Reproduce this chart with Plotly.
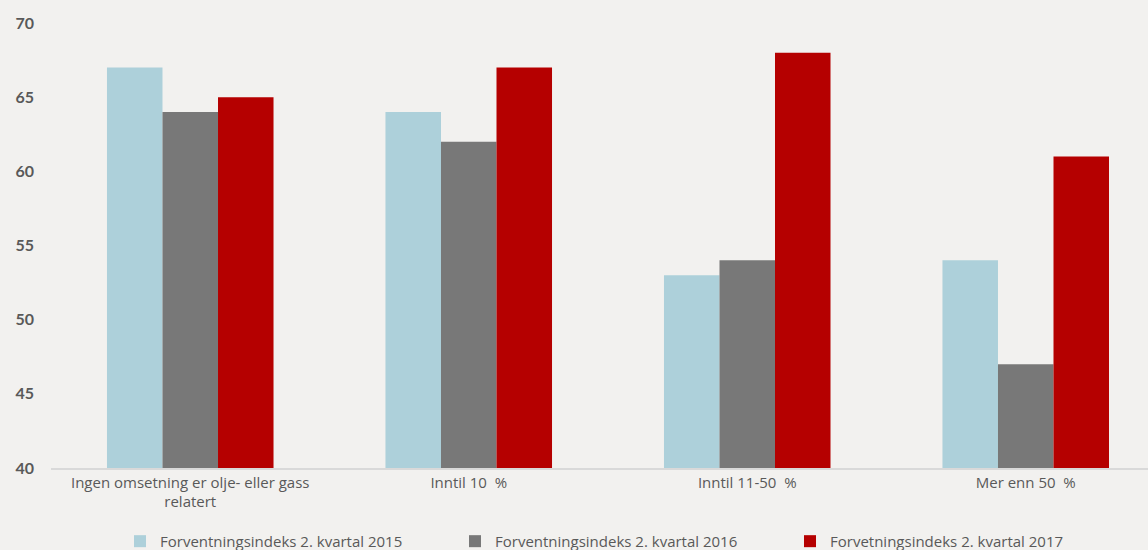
import plotly.graph_objects as go

categories = ["Ingen omsetning er olje- eller gass<br>relatert", "Inntil 10  %", "Inntil 11-50  %", "Mer enn 50  %"]
series_names = ["Forventningsindeks 2. kvartal 2015", "Forventningsindeks 2. kvartal 2016", "Forvetningsindeks 2. kvartal 2017"]
values_2015 = [67, 64, 53, 54]
values_2016 = [64, 62, 54, 47]
values_2017 = [65, 67, 68, 61]
colors = ["#ADD0DA", "#787878", "#B50000"]
yticks = [40, 45, 50, 55, 60, 65, 70]

fig = go.Figure()
for name, vals, col in zip(series_names, [values_2015, values_2016, values_2017], colors):
    fig.add_trace(go.Bar(x=list(range(len(categories))), y=vals, name=name,
                         marker=dict(color=col, line=dict(width=0))))

fig.update_layout(
    width=1148, height=550,
    paper_bgcolor="#F2F1EF", plot_bgcolor="#F2F1EF",
    margin=dict(l=51, r=0, t=23, b=82, autoexpand=False),
    barmode="group", bargap=0.402, bargroupgap=0,
    font=dict(family="Open Sans, sans-serif", color="#595959"),
    showlegend=True,
    legend=dict(orientation="h", x=0.5, xanchor="left", y=-0.165, yanchor="middle",
                font=dict(size=15, color="#595959"), entrywidth=290, traceorder="normal",
                itemwidth=30, bgcolor="rgba(0,0,0,0)"),
    xaxis=dict(tickmode="array", tickvals=list(range(len(categories))), ticktext=categories,
               range=[-0.5, 3.439], showgrid=False, showline=True, linecolor="#D9D9D9",
               linewidth=1.5, ticks="", tickfont=dict(size=15, color="#595959"), zeroline=False),
    yaxis=dict(range=[40, 70], tickvals=yticks, showgrid=False, zeroline=False, showline=False,
               tickfont=dict(size=16, color="#595959", family="Lato, sans-serif", weight="bold"),
               ticklabelstandoff=16),
)
# position legend so that its left edge sits near the reference position
fig.update_layout(legend_x=(120 - 51) / (1148 - 51))

fig.write_html("out.html", config={"displayModeBar": False},
               post_script="document.body.style.margin='0';document.body.style.padding='0';")
